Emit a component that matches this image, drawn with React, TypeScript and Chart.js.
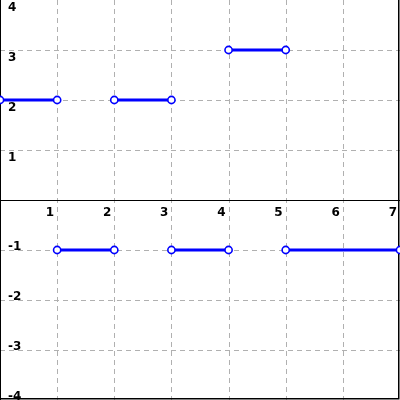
import React, { useEffect, useRef } from "react";
import { Chart, registerables } from "chart.js";

Chart.register(...registerables);

// Step segments: [start, end) at value, open circles at both ends
const segStarts = [0, 2, 4, 1, 3, 5];
const segEnds = [1, 3, 5, 2, 4, 7];
const segValues = [2, 2, 3, -1, -1, -1];

const xTicks = [1, 2, 3, 4, 5, 6, 7];
const yTicks = [4, 3, 2, 1, -1, -2, -3, -4];
const xGrid = [1, 2, 3, 4, 5, 6];
const yGrid = [3, 2, 1, -1, -2, -3];

const X_MIN = 0;
const X_MAX = 7;
const Y_MIN = -4;
const Y_MAX = 4;

const BLUE = "#0000ff";

const gridPlugin = {
  id: "customGrid",
  beforeDatasetsDraw(chart: any) {
    const ctx = chart.ctx;
    const xs = chart.scales.x;
    const ys = chart.scales.y;
    const W = chart.width;
    const H = chart.height;
    ctx.save();
    // dashed grid
    ctx.strokeStyle = "#b0b0b0";
    ctx.lineWidth = 1;
    ctx.setLineDash([5, 4]);
    xGrid.forEach((v) => {
      const px = Math.round(xs.getPixelForValue(v)) + 0.5;
      ctx.beginPath();
      ctx.moveTo(px, 0);
      ctx.lineTo(px, H);
      ctx.stroke();
    });
    yGrid.forEach((v) => {
      const py = Math.round(ys.getPixelForValue(v)) + 0.5;
      ctx.beginPath();
      ctx.moveTo(0, py);
      ctx.lineTo(W, py);
      ctx.stroke();
    });
    ctx.setLineDash([]);
    // axes and border
    ctx.strokeStyle = "#000000";
    ctx.lineWidth = 1;
    const y0 = Math.round(ys.getPixelForValue(0)) + 0.5;
    ctx.beginPath();
    ctx.moveTo(0, y0);
    ctx.lineTo(W, y0);
    ctx.stroke();
    ctx.lineWidth = 2;
    ctx.beginPath();
    ctx.moveTo(0, 0);
    ctx.lineTo(0, H);
    ctx.stroke();
    ctx.lineWidth = 1.5;
    ctx.beginPath();
    ctx.moveTo(W - 1.25, 0);
    ctx.lineTo(W - 1.25, H - 1.25);
    ctx.lineTo(0, H - 1.25);
    ctx.stroke();

    // labels
    ctx.fillStyle = "#000000";
    ctx.font = "bold 12px 'DejaVu Sans'";
    ctx.textBaseline = "alphabetic";
    ctx.textAlign = "left";
    yTicks.forEach((v) => {
      const py = ys.getPixelForValue(v);
      const base = v > 0 ? py + 10.5 : py;
      ctx.fillText(String(v), 8, base);
    });
    ctx.textAlign = "right";
    const yb = ys.getPixelForValue(0) + 15.5;
    xTicks.forEach((v) => {
      const px = xs.getPixelForValue(v);
      ctx.fillText(String(v), px - 3, yb);
    });
    ctx.restore();
  },
};

export default function App() {
  const ref = useRef<HTMLCanvasElement | null>(null);
  useEffect(() => {
    if (!ref.current) return;
    const datasets = segStarts.map((s, i) => ({
      data: [
        { x: s, y: segValues[i] },
        { x: segEnds[i], y: segValues[i] },
      ],
      showLine: true,
      borderColor: BLUE,
      borderWidth: 3,
      pointRadius: 3.6,
      pointBorderWidth: 1.6,
      pointBackgroundColor: "#ffffff",
      pointBorderColor: BLUE,
      clip: false as any,
    }));
    const chart = new Chart(ref.current, {
      type: "scatter",
      data: { datasets },
      options: {
        animation: false,
        responsive: false,
        devicePixelRatio: 1,
        layout: { padding: 0, autoPadding: false },
        plugins: { legend: { display: false }, tooltip: { enabled: false } },
        scales: {
          x: { type: "linear", min: X_MIN, max: X_MAX, display: false },
          y: { type: "linear", min: Y_MIN, max: Y_MAX, display: false },
        },
      },
      plugins: [gridPlugin],
    });
    return () => chart.destroy();
  }, []);
  return (
    <div style={{ position: "fixed", left: 0, top: 0, width: 400, height: 400, background: "#fff" }}>
      <canvas ref={ref} width={400} height={400} />
    </div>
  );
}
